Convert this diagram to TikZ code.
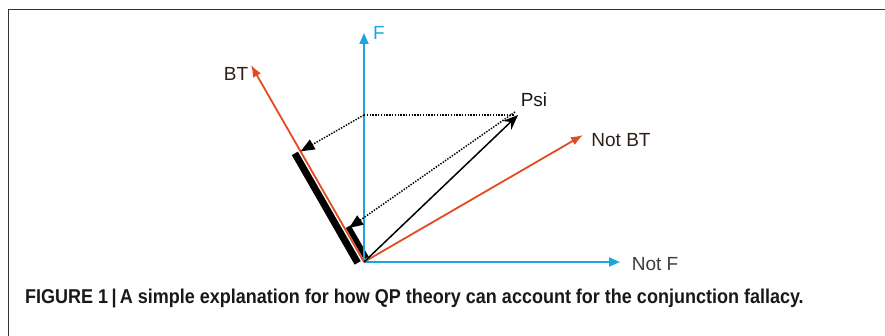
\documentclass[tikz,border=0pt]{standalone}
\usepackage{fontspec}
\setsansfont{Liberation Sans}
\newfontfamily\capfont[FakeStretch=0.9]{Liberation Sans}
\usetikzlibrary{arrows.meta,calc}
\definecolor{axiscyan}{RGB}{27,166,222}
\definecolor{btred}{RGB}{227,74,33}
\definecolor{lbldark}{RGB}{48,30,26}

\begin{document}
\begin{tikzpicture}[
  x=1pt, y=-1pt,
  axis/.style ={draw=axiscyan, line width=1.8pt, -{Triangle[length=11pt,width=9pt]}},
  cat/.style  ={draw=btred, line width=1.8pt, -{Latex[length=12pt,width=9pt]}},
  state/.style={draw=black, line width=1.5pt, -{Stealth[length=15pt,width=12pt]}},
  proj/.style ={draw=black, line width=1.5pt, dash pattern=on 1.4pt off 1.4pt, -{Triangle[length=14pt,width=11pt]}},
  guide/.style={draw=black, line width=1.5pt, dash pattern=on 1.4pt off 1.4pt},
  bar/.style  ={draw=black, line cap=butt},
  lbl/.style  ={font=\sffamily\fontsize{19}{19}\selectfont, inner sep=0pt},
  frame/.style={draw=black!80, line width=1.6pt}
]
\useasboundingbox (0,0) rectangle (885,336);
\draw[frame] (8.5,336) |- (885,9.5);

% axes and category vectors
\coordinate (O)    at (364,262);
\coordinate (F)    at (364,33);
\coordinate (notF) at (620,262);
\coordinate (BT)   at (251,65);
\coordinate (notBT) at (583,135);
\coordinate (psi)  at (518,115);
\coordinate (Fpsi) at (364,115);

% projection lengths on BT
\draw[bar, line width=7pt] ($(O)!0.01!(BT)+(-5.2,2.9)$) -- ($(O)!0.566!(BT)+(-5.2,2.9)$);
\draw[bar, line width=5.5pt] ($(O)!0.01!(BT)+(3.4,-1.9)$) -- ($(O)!0.17!(BT)+(3.4,-1.9)$);

\draw[axis] (O) -- (F);
\draw[axis] (O) -- (notF);
\draw[cat]  (O) -- (BT);
\draw[cat]  (O) -- (notBT);
\draw[state] (O) -- (psi);

\draw[guide] (Fpsi) -- ([xshift=-4pt]psi);
\draw[proj]  (Fpsi) -- ($(O)!(Fpsi)!(BT)$);
\draw[proj]  ([xshift=-3pt,yshift=3pt]psi) -- (349,228);

\node[lbl, text=axiscyan] (Flbl)    at (379,33)  {F};
\node[lbl, text=lbldark]  (BTlbl)   at (236,74)  {BT};
\node[lbl, text=black!90] (psilbl)  at (534,100) {Psi};
\node[lbl, text=lbldark]  (nBTlbl)  at (621,140) {Not BT};
\node[lbl, text=black!85!cyan] (nFlbl) at (655,264) {Not F};

\node[anchor=base west, inner sep=0pt, font=\capfont\bfseries\fontsize{20}{20}\selectfont, text=black!90] (cap)
  at (25,304) {FIGURE 1\,|\,A simple explanation for how QP theory can account for the conjunction fallacy.};
\end{tikzpicture}
\end{document}
